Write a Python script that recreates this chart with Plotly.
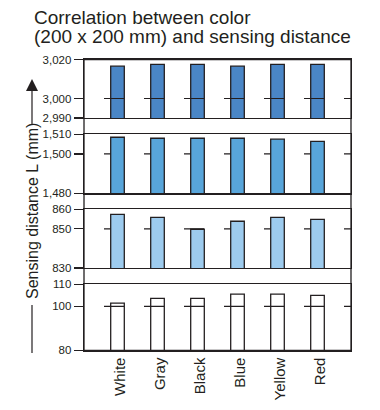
import plotly.graph_objects as go

W, H = 380, 410

categories = ["White", "Gray", "Black", "Blue", "Yellow", "Red"]
dist_3000 = [3016.6, 3017.5, 3017.5, 3016.6, 3017.5, 3017.5]
dist_1500 = [1508.5, 1508.0, 1508.0, 1508.0, 1507.5, 1506.4]
dist_850 = [857.4, 855.9, 849.8, 853.9, 855.9, 854.9]
dist_100 = [101.4, 103.6, 103.6, 105.5, 105.5, 105.0]

panel_ranges = [[2990, 3020], [1480, 1510], [830, 860], [80, 110]]
panel_ticks = [[2990, 3000, 3020], [1480, 1500, 1510], [830, 850, 860], [80, 100, 110]]
mid_ticks = [3000, 1500, 850, 100]
series = [dist_3000, dist_1500, dist_850, dist_100]
bar_colors = ["#4a86c6", "#58a5da", "#9dcbee", "#ffffff"]
grid_above = [True, False, False, True]

# pixel layout
px_left, px_right = 84, 351
panel_px = [(59.5, 118), (134.3, 193.3), (209.3, 268), (284.3, 350.3)]

def fx(p):
    return p / W

def fy(p):
    return 1 - p / H

INK = "#231f20"
FONT = "Liberation Sans, Arial, Helvetica, sans-serif"

fig = go.Figure()
layout = dict(
    width=W, height=H,
    margin=dict(l=0, r=0, t=0, b=0),
    paper_bgcolor="white", plot_bgcolor="white",
    showlegend=False, template="none",
    font=dict(family=FONT, color=INK),
)

shapes = []
for i in range(4):
    n = "" if i == 0 else str(i + 1)
    xa, ya = "x" + n, "y" + n
    fig.add_trace(go.Bar(
        x=categories, y=series[i], xaxis=xa, yaxis=ya,
        marker=dict(color=bar_colors[i], line=dict(color=INK, width=1.3)),
        width=0.34, hoverinfo="skip",
    ))
    top, bot = panel_px[i]
    layout["xaxis" + n] = dict(
        domain=[fx(px_left), fx(px_right)],
        anchor=ya, range=[-0.8375, 5.8375],
        showline=True, mirror=True, linecolor=INK, linewidth=1.3,
        showgrid=False, zeroline=False, ticks="",
        showticklabels=(i == 3), tickangle=-90, ticklabelshift=3,
        tickfont=dict(size=15, color=INK, family=FONT),
        automargin=False, fixedrange=True,
        **({} if i == 0 else {"matches": "x"}),
    )
    layout["yaxis" + n] = dict(
        domain=[fy(bot), fy(top)],
        anchor=xa, range=panel_ranges[i],
        tickvals=panel_ticks[i], tickformat=",d",
        ticks="outside", ticklen=9, tickwidth=1.2, tickcolor=INK,
        showline=True, mirror=True, linecolor=INK, linewidth=1.3,
        showgrid=False, zeroline=False,
        tickfont=dict(size=11.5, color=INK, family=FONT),
        automargin=False, fixedrange=True,
    )
    shapes.append(dict(
        type="line", xref=xa + " domain", yref=ya,
        x0=0, x1=1, y0=mid_ticks[i], y1=mid_ticks[i],
        line=dict(color=INK, width=1.2, dash="0px,20px,20px,0px"),
        layer="above" if grid_above[i] else "below",
    ))

# continuous frame sides
shapes.append(dict(type="rect", xref="paper", yref="paper",
                   x0=fx(px_left), x1=fx(px_right), y0=fy(350.3), y1=fy(59.5),
                   line=dict(color=INK, width=1.3), layer="above"))
# lower part of axis title line
shapes.append(dict(type="line", xref="paper", yref="paper",
                   x0=fx(32), x1=fx(32), y0=fy(305), y1=fy(353),
                   line=dict(color=INK, width=1.2)))
layout["shapes"] = shapes

layout["annotations"] = [
    dict(text="Correlation between color", xref="paper", yref="paper",
         x=fx(32), y=fy(17), xanchor="left", yanchor="middle",
         showarrow=False, font=dict(size=19, color=INK, family=FONT)),
    dict(text="(200 x 200 mm) and sensing distance", xref="paper", yref="paper",
         x=fx(32), y=fy(37), xanchor="left", yanchor="middle",
         showarrow=False, font=dict(size=19, color=INK, family=FONT)),
    dict(text="Sensing distance L (mm)", xref="paper", yref="paper",
         x=fx(32), y=fy(211), xanchor="center", yanchor="middle", textangle=-90,
         showarrow=False, font=dict(size=16, color=INK, family=FONT)),
    dict(text="", xref="paper", yref="paper", x=fx(32), y=fy(79),
         showarrow=True, ax=0, ay=47, arrowhead=2, arrowsize=2,
         arrowwidth=1.2, arrowcolor=INK, standoff=0),
]

fig.update_layout(**layout)
fig.write_html(
    "out.html",
    config={"displayModeBar": False, "staticPlot": True},
    post_script="document.body.style.margin='0';document.body.style.overflow='hidden';",
)
